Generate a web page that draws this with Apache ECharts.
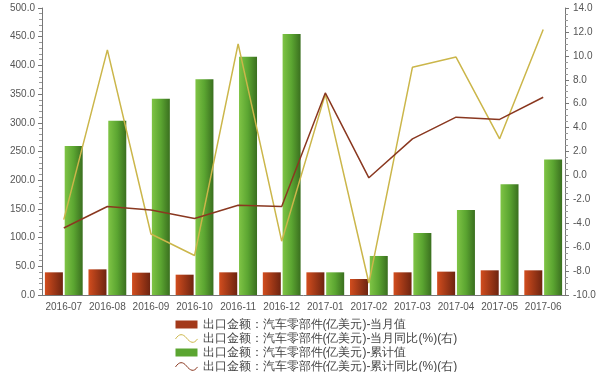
<!DOCTYPE html>
<html>
<head>
<meta charset="utf-8">
<script src="https://cdn.jsdelivr.net/npm/echarts@6/dist/echarts.min.js"></script>
<style>html,body{margin:0;padding:0;background:#fff}#c{width:600px;height:372px}</style>
</head>
<body>
<div id="c"></div>
<script>
var categories = ['2016-07','2016-08','2016-09','2016-10','2016-11','2016-12','2017-01','2017-02','2017-03','2017-04','2017-05','2017-06'];
var monthValue = [39.5, 44.7, 38.9, 35.4, 39.5, 39.5, 39.5, 27.9, 39.5, 40.7, 43.0, 43.0];
var monthYoY = [-3.7, 10.5, -4.9, -6.7, 11.0, -5.5, 6.8, -9.0, 9.05, 9.9, 3.06, 12.2];
var cumValue = [259.6, 303.7, 342.0, 375.8, 415.0, 454.7, 39.5, 68.0, 108.0, 148.0, 193.0, 236.0];
var cumYoY = [-4.4, -2.6, -2.9, -3.6, -2.5, -2.6, 6.9, -0.2, 3.06, 4.87, 4.68, 6.54];
var names = ['出口金额：汽车零部件(亿美元)-当月值','出口金额：汽车零部件(亿美元)-当月同比(%)(右)','出口金额：汽车零部件(亿美元)-累计值','出口金额：汽车零部件(亿美元)-累计同比(%)(右)'];

var font = '"Liberation Sans", Arial, sans-serif';
var redGrad = new echarts.graphic.LinearGradient(0,0,1,0,[{offset:0,color:'#d24d1e'},{offset:1,color:'#6e2410'}]);
var greenGrad = new echarts.graphic.LinearGradient(0,0,1,0,[{offset:0,color:'#7fc445'},{offset:0.5,color:'#5ba531'},{offset:1,color:'#3a6f1f'}]);
var yellow = '#cbb64a';
var brown = '#8a3820';
var wave = 'path://M0,6 C4,0 8,0 12,5 S20,12 24,6';

var chart = echarts.init(document.getElementById('c'));
chart.setOption({
  animation: false,
  textStyle: {fontFamily: font},
  grid: {left: 42, right: 35, top: 8, bottom: 77},
  legend: {
    orient: 'vertical', left: 175, top: 318, height: 80, padding: 0, itemGap: 1, itemWidth: 22, itemHeight: 8,
    textStyle: {fontSize: 12, lineHeight: 13, color: '#444', fontFamily: font},
    data: [
      {name: names[0], icon: 'rect', itemStyle: {color: '#a3391a'}},
      {name: names[1], icon: wave, itemStyle: {color: 'rgba(0,0,0,0)', borderColor: yellow, borderWidth: 1}},
      {name: names[2], icon: 'rect', itemStyle: {color: '#5ba531'}},
      {name: names[3], icon: wave, itemStyle: {color: 'rgba(0,0,0,0)', borderColor: brown, borderWidth: 1}}
    ]
  },
  xAxis: {
    type: 'category', data: categories,
    axisLine: {lineStyle: {color: '#777'}},
    axisTick: {alignWithLabel: true, interval: 0, length: 4, lineStyle: {color: '#777'}},
    axisLabel: {interval: 0, color: '#555', fontSize: 10, margin: 7}
  },
  yAxis: [
    {type: 'value', min: 0, max: 500, interval: 50,
     axisLine: {show: true, lineStyle: {color: '#777'}},
     axisTick: {show: true, length: 4, lineStyle: {color: '#777'}},
     minorTick: {show: true, splitNumber: 5, length: 3, lineStyle: {color: '#999'}},
     splitLine: {show: false},
     axisLabel: {color: '#555', fontSize: 10, margin: 7, formatter: function(v){return v.toFixed(1);}}},
    {type: 'value', min: -10, max: 14, interval: 2, position: 'right',
     axisLine: {show: true, lineStyle: {color: '#777'}},
     axisTick: {show: true, length: 4, lineStyle: {color: '#777'}},
     minorTick: {show: true, splitNumber: 4, length: 3, lineStyle: {color: '#999'}},
     splitLine: {show: false},
     axisLabel: {color: '#555', fontSize: 10, margin: 8, formatter: function(v){return v.toFixed(1);}}}
  ],
  series: [
    {name: names[0], type: 'bar', data: monthValue, barWidth: 18, barGap: '10%', itemStyle: {color: redGrad}, z: 2},
    {name: names[1], type: 'line', yAxisIndex: 1, data: monthYoY, symbol: 'none', lineStyle: {color: yellow, width: 1.5}, itemStyle: {color: yellow}, z: 5},
    {name: names[2], type: 'bar', data: cumValue, barWidth: 18, barGap: '10%', itemStyle: {color: greenGrad}, z: 2},
    {name: names[3], type: 'line', yAxisIndex: 1, data: cumYoY, symbol: 'none', lineStyle: {color: brown, width: 1.5}, itemStyle: {color: brown}, z: 5}
  ]
});
</script>
</body>
</html>
